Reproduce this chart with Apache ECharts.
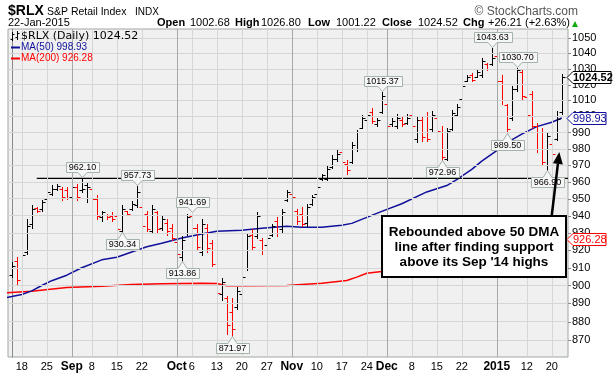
<!DOCTYPE html>
<html><head><meta charset="utf-8">
<script src="https://cdn.jsdelivr.net/npm/echarts@6/dist/echarts.min.js"></script>
<style>html,body{margin:0;padding:0;background:#fff}#c{width:616px;height:373px}</style>
</head><body><div id="c"></div>
<script>
// ---- DATA (index 0 = 14-Aug-2014 ... index 110 = 22-Jan-2015, trading days) ----
const opens = [906,914,910,919,935,944.5,944,950,953,956,
  956,955,951,957,955,958,956,950,939,940.5,
  940,940,931,942.5,944,946,945,941,931,942,
  933,936,933,925,916,930,940,933,919,933,
  924,910,895,893,885,888,895,910,929,928,
  926,923,929,937,932,949,953,943,941,936,
  947,953,961.5,962,969,973.5,978,971,972,980,
  993,998,1003,995,1003,1008,995,994,998,996,
  1001,986,998,1000,992,999,990,974,992,1001,
  1011,1022.5,1026,1025,1026,1033,1033,1038,1022,1007,
  999,1017,1028,1012,1014,994,980,970,983,986,1002.68];
const highs = [913,916,919,938,946,945,949.5,955,958,958.5,
  957,957,960,958.5,962.10,960,958,952,943,941,
  942,941,946,943,948.7,957.73,946.5,942.6,946,943,
  940,938,935,926,928,941,941.69,935,938,935,
  926,911,904,894,893,899,906.5,930,932,942,
  927,929,935,939,944,955,955,944,945,947,
  952,958.5,964.6,970,976,979,979.5,973,984,991.5,
  1001,1002.5,1005.5,999,1015.37,1009,999,1001.5,1000,1001.5,
  1004,1000,1000,1002.5,1003.5,1000,994,992.5,1004,1008,
  1021,1026,1027.5,1029,1037,1033.7,1043.63,1039,1026,1008,
  1019,1030.70,1029.6,1013,1016,996,992.5,989.5,984,1003.5,1026.80];
const lows = [905,900,909,918,933,942,943,949.5,952,955,
  949,950,950,949.5,954,948,949,938,937,938,
  937,931,930.34,940.5,943.6,945,932,931,929.7,930.3,
  931.5,929,926,916,913.86,929,931.5,920.5,917,919,
  911,894,892,873,871.97,887,892,909,920.5,927,
  918,922,928,928,930.5,948.7,949.5,935,934,934,
  946.5,952.5,961,961,968.5,972.5,970,964.5,971.5,978.5,
  992.5,996,996,994,1002,992.5,993.7,992.5,993.7,995,
  992.5,984,985,985,990.5,989,972.96,973,991.5,1000,
  1010,1022,1022,1024.5,1024.5,1029,1032.5,1020,1008,989.50,
  998,1016,1011,999,992.5,978,970,966.90,975,985.3,1001.22];
const closes = [911,903,917,934,944,943,948,954,956,957.5,
  951,950.5,957,951,956,957,950,940,942,939,
  938,932,944,941,947,954,934,932,944,932,
  938,931,927,918,926,939,933,922,935,921,
  912,896,902,878,876,897,905,928,922,940,
  920,927,934,930,942,954,951,937,935,945,
  951,957,964,968,974,977,972,967,982,990,
  999,1001,997,998,1013,994,997,999,995,999,
  994,998,987,986,1001,991,975,991,1002,1006,
  1019,1025,1023,1028,1035,1030,1037,1022,1010,992,
  1017,1029,1013,1001,994,980,972,988,977,998.31,1024.52];

// moving averages (bar index, value)
const ma50Idx = [-1,0,2,4,6,8,11,14,18,21,24,27,30,34,38,41,46,50,55,58,62,66,68,71,74,78,83,87,89,92,94,97,100,102,105,108,110];
const ma50Val = [893.3,893.8,895,897,900,902.7,905.8,910,914.5,916,919,922,924,927,929.3,930.9,931.5,932.6,933.8,933.2,933.2,934.4,935.5,939,942.5,947,954,957.8,961.4,967.5,972.5,978.9,985.5,989,993.6,996.3,998.93];
const ma200Idx = [-1,4,11,18,24,30,38,41,43,46,55,58,62,67,69,71,74,78,110];
const ma200Val = [896.0,896.8,898.9,899.6,900.5,901.0,901.3,901.1,899.9,899.9,900.0,900.6,901.3,902.8,904.7,906.9,907.9,909.3,926.28];

// x tick labels (bar index -> label); month/year starts in bold
const tickIdx = [2,7,12,16,21,26,33,36,41,46,51,56,61,66,71,75,80,85,90,97,103,108];
const tickLabels = ['18','25','Sep','8','15','22','Oct','6','13','20','27','Nov','10','17','24','Dec','8','15','22','2015','12','20'];
const monthLabels = ['Sep','Oct','Nov','Dec','2015'];
// y ticks
const yTicks = [870,880,890,900,910,920,930,940,950,960,970,980,990,1000,1010,1020,1030,1040,1050];
// annotated highs / lows
const calloutIdx = [14,25,22,36,34,44,74,86,96,101,99,107];
const calloutKind = ['H','H','L','H','L','L','H','L','H','H','L','L'];
// support level (Sep '14 high) drawn from bar index 5
const supportLevel = 962.10;
const supportFrom = 5;

// ---- CHART ----
const N = closes.length;
const ohlcData = closes.map((c, i) => [i, opens[i], highs[i], lows[i], c, i > 0 ? closes[i - 1] : opens[i]]);
const calloutData = calloutIdx.map((i, k) => [i, calloutKind[k] === 'H' ? highs[i] : lows[i], calloutKind[k] === 'H' ? 1 : -1]);
const ma50Data = ma50Idx.map((i, k) => [i, ma50Val[k]]);
const ma200Data = ma200Idx.map((i, k) => [i, ma200Val[k]]);

const FONT = '"Liberation Sans", Arial, sans-serif';
const BLUE = '#10109a';
const RED = '#ff0000';
const GRIDC = '#d6d6d6';
const MONTHC = '#a8a8a8';

const mctx = document.createElement('canvas').getContext('2d');
mctx.font = '9px ' + FONT;

function renderOHLC(params, api) {
  const i = api.value(0), o = api.value(1), h = api.value(2), l = api.value(3), c = api.value(4), pc = api.value(5);
  const ph = api.coord([i, h]), pl = api.coord([i, l]), po = api.coord([i, o]), pcl = api.coord([i, c]);
  const x = Math.round(ph[0]) + 0.5;
  const col = c >= pc ? '#000000' : RED;
  const st = { stroke: col, lineWidth: 1 };
  const yo = Math.round(po[1]) + 0.5, yc = Math.round(pcl[1]) + 0.5;
  return { type: 'group', children: [
    { type: 'line', shape: { x1: x, y1: Math.round(ph[1]), x2: x, y2: Math.round(pl[1]) + 1 }, style: st },
    { type: 'line', shape: { x1: x - 3, y1: yo, x2: x, y2: yo }, style: st },
    { type: 'line', shape: { x1: x, y1: yc, x2: x + 3, y2: yc }, style: st }
  ] };
}

function renderCallout(params, api) {
  const i = api.value(0), v = api.value(1), kind = api.value(2);
  const p = api.coord([i, v]);
  const txt = v.toFixed(2);
  const w = Math.round(mctx.measureText(txt).width) + 5;
  const h = 10;
  const cx = Math.round(p[0]) + 0.5;
  const x0 = Math.round(cx - w / 2) + 0.5, x1 = x0 + w;
  let pts, yt, yb;
  if (kind > 0) {
    const tip = Math.round(p[1]) - 0.5;
    yb = tip - 5; yt = yb - h;
    pts = [[x0, yt], [x1, yt], [x1, yb], [cx + 4.5, yb], [cx, tip], [cx - 4.5, yb], [x0, yb]];
  } else {
    const tip = Math.round(p[1]) + 0.5;
    yt = tip + 7; yb = yt + h;
    pts = [[x0, yt], [cx - 4.5, yt], [cx, tip], [cx + 4.5, yt], [x1, yt], [x1, yb], [x0, yb]];
  }
  return { type: 'group', children: [
    { type: 'polygon', shape: { points: pts }, style: { fill: '#f7f7f7', stroke: '#a3b3a8', lineWidth: 1 } },
    { type: 'text', style: { text: txt, x: cx, y: (yt + yb) / 2 + 0.5, fill: '#000', font: '9px ' + FONT,
        align: 'center', verticalAlign: 'middle', textAlign: 'center', textVerticalAlign: 'middle' } }
  ] };
}

const gridMarks = [];
yTicks.forEach(v => gridMarks.push({ yAxis: v, lineStyle: { color: GRIDC, width: 1, type: 'solid' },
  label: { show: true, position: 'end', formatter: String(v), color: '#000', fontSize: 11, fontFamily: FONT, distance: 4 } }));
tickIdx.forEach((i, k) => gridMarks.push({ xAxis: i, lineStyle: { color: monthLabels.includes(tickLabels[k]) ? MONTHC : GRIDC, width: 1, type: 'solid' },
  label: { show: false } }));

const chart = echarts.init(document.getElementById('c'), null, { renderer: 'canvas' });
const option = {
  animation: false,
  backgroundColor: '#ffffff',
  grid: { left: 8, right: 48, top: 29, bottom: 15, show: true, backgroundColor: '#f0f0f0', borderColor: '#a0a8a2', borderWidth: 1, containLabel: false },
  xAxis: {
    type: 'value', min: -0.75, max: 111.25,
    axisLine: { show: false }, axisTick: { show: false }, splitLine: { show: false },
    axisLabel: {
      customValues: tickIdx, hideOverlap: false, margin: 4, color: '#000', fontSize: 11, fontFamily: FONT,
      formatter: v => { const k = tickIdx.indexOf(v); if (k < 0) return ''; const s = tickLabels[k]; return monthLabels.includes(s) ? '{m|' + s + '}' : s; },
      rich: { m: { fontWeight: 'bold', fontSize: 12, fontFamily: FONT, color: '#000' } }
    }
  },
  yAxis: {
    type: 'log', logBase: 10, min: 860.8, max: 1055.9, position: 'right',
    axisLine: { show: true, lineStyle: { color: '#8a8a8a' } }, axisTick: { show: false },
    axisLabel: { show: false }, splitLine: { show: false }
  },
  series: [
    { type: 'line', name: 'grid', data: ma200Data, symbol: 'none', silent: true, z: 1,
      lineStyle: { opacity: 0, width: 0 },
      markLine: { silent: true, symbol: ['none', 'none'], animation: false, data: gridMarks } },
    { type: 'line', name: 'MA(200)', data: ma200Data, symbol: 'none', smooth: false, clip: true, z: 2,
      lineStyle: { color: RED, width: 1.5 } },
    { type: 'line', name: 'MA(50)', data: ma50Data, symbol: 'none', smooth: false, clip: true, z: 2,
      lineStyle: { color: BLUE, width: 1.5 } },
    { type: 'custom', name: '$RLX', data: ohlcData, renderItem: renderOHLC, clip: true, z: 3,
      encode: { x: 0, y: [1, 2, 3, 4] } },
    { type: 'line', name: 'support', data: [[supportFrom, supportLevel], [111.25, supportLevel]], symbol: 'none', z: 4,
      lineStyle: { color: '#000', width: 1.2 } },
    { type: 'custom', name: 'callouts', data: calloutData, renderItem: renderCallout, clip: false, z: 5,
      encode: { x: 0, y: 1 } }
  ]
};
chart.setOption(option);

// ---- annotations in pixel space derived from the axes ----
const last = N - 1;
const py = v => chart.convertToPixel({ gridIndex: 0 }, [0, v])[1];
const g = [];
const T = (text, x, y, font, fill, align) => g.push({ type: 'text', z: 20,
  style: { text, x, y, font, fill: fill || '#000', align: align || 'left', verticalAlign: 'middle', textAlign: align || 'left', textVerticalAlign: 'middle' } });

// header row 1
T('$RLX', 8, 11, 'bold 14px ' + FONT);
T('S&P Retail Index', 47, 12, '10.5px ' + FONT);
T('INDX', 135, 12, '10px ' + FONT);
T('\u00A9 StockCharts.com', 578, 12, '12px ' + FONT, '#555555', 'right');
// header row 2
T('22-Jan-2015', 8, 23, '11px ' + FONT);
const chg = closes[last] - closes[last - 1];
const pct = chg / closes[last - 1] * 100;
const hdr = [['Open', 157, true], [opens[last].toFixed(2), 190], ['High', 235, true], [highs[last].toFixed(2), 261],
  ['Low', 308, true], [lows[last].toFixed(2), 336], ['Close', 382, true], [closes[last].toFixed(2), 418],
  ['Chg', 463, true], ['+' + chg.toFixed(2) + ' (+' + pct.toFixed(2) + '%)', 488]];
hdr.forEach(h => T(h[0], h[1], 23, (h[2] ? 'bold ' : '') + '11px ' + FONT));
g.push({ type: 'polygon', z: 20, shape: { points: [[572, 27], [578, 27], [575, 21]] }, style: { fill: '#11aa11' } });

// legend
T('$RLX (Daily) ' + closes[last].toFixed(2), 21, 36, '11px "DejaVu Sans", Verdana, sans-serif');
T('MA(50) ' + ma50Val[ma50Val.length - 1].toFixed(2), 21, 47, '10px ' + FONT, BLUE);
T('MA(200) ' + ma200Val[ma200Val.length - 1].toFixed(2), 21, 58, '10px ' + FONT, RED);
g.push({ type: 'line', z: 20, shape: { x1: 11, y1: 47.5, x2: 20, y2: 47.5 }, style: { stroke: BLUE, lineWidth: 2 } });
g.push({ type: 'line', z: 20, shape: { x1: 11, y1: 58.5, x2: 20, y2: 58.5 }, style: { stroke: RED, lineWidth: 2 } });
// small OHLC icon
[[12.5, 32, 41, 39, 34], [17.5, 31, 40, 37, 33]].forEach(b => {
  g.push({ type: 'line', z: 20, shape: { x1: b[0], y1: b[1], x2: b[0], y2: b[2] }, style: { stroke: '#000', lineWidth: 1 } });
  g.push({ type: 'line', z: 20, shape: { x1: b[0] - 2, y1: b[3] + 0.5, x2: b[0], y2: b[3] + 0.5 }, style: { stroke: '#000', lineWidth: 1 } });
  g.push({ type: 'line', z: 20, shape: { x1: b[0], y1: b[4] + 0.5, x2: b[0] + 2, y2: b[4] + 0.5 }, style: { stroke: '#000', lineWidth: 1 } });
});

// right-axis ticks
yTicks.forEach(v => { const y = Math.round(py(v)) + 0.5; g.push({ type: 'line', z: 19, shape: { x1: 568, y1: y, x2: 571, y2: y }, style: { stroke: '#8a8a8a', lineWidth: 1 } }); });

// right-axis value tags
function tag(v, color, bold, x2) {
  const y = Math.round(py(v)) + 0.5;
  g.push({ type: 'polygon', z: 21, shape: { points: [[567, y], [573, y - 6], [x2, y - 6], [x2, y + 6], [573, y + 6]] },
    style: { fill: '#ffffff', stroke: color, lineWidth: 1 } });
  T(v.toFixed(2), 573, y + 0.5, (bold ? 'bold ' : '') + '11px ' + FONT, color === '#000000' ? '#000' : color);
  g[g.length - 1].z = 22;
}
tag(closes[last], '#000000', true, 611);
tag(ma50Val[ma50Val.length - 1], BLUE, false, 606);
tag(ma200Val[ma200Val.length - 1], RED, false, 606);

// comment box
g.push({ type: 'rect', z: 23, shape: { x: 382, y: 216, width: 184, height: 61 }, style: { fill: '#ffffff', stroke: '#000', lineWidth: 2 } });
['Rebounded above 50 DMA', 'line after finding support', "above its Sep '14 highs"].forEach((s, k) =>
  { T(s, 474, 232 + k * 15, 'bold 13.5px ' + FONT, '#000', 'center'); g[g.length - 1].z = 24; });
// arrow
const ax0 = 551.7, ay0 = 216, ax1 = 559.3, ay1 = 152;
const dl = Math.hypot(ax1 - ax0, ay1 - ay0), dx = (ax1 - ax0) / dl, dy = (ay1 - ay0) / dl;
const bx = ax1 - 12 * dx, by = ay1 - 12 * dy;
g.push({ type: 'line', z: 23, shape: { x1: ax0, y1: ay0, x2: bx, y2: by }, style: { stroke: '#000', lineWidth: 2.5 } });
g.push({ type: 'polygon', z: 23, shape: { points: [[ax1, ay1], [bx - 5 * dy, by + 5 * dx], [bx + 5 * dy, by - 5 * dx]] }, style: { fill: '#000' } });

chart.setOption({ graphic: { elements: g } });
</script></body></html>
